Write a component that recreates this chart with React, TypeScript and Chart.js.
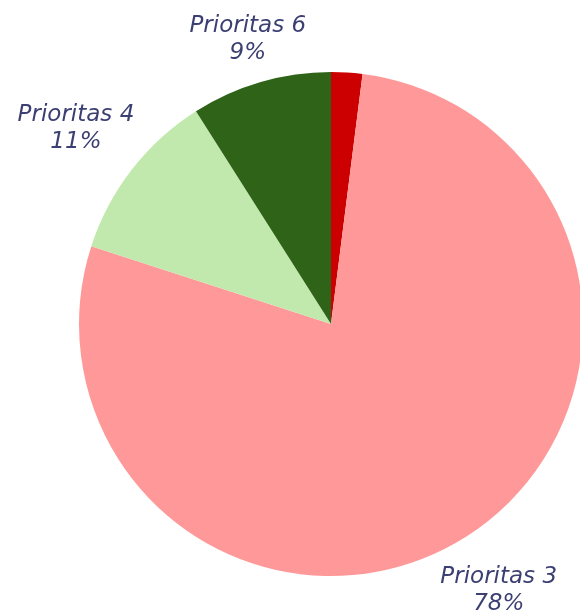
import React, { useEffect, useRef } from "react";
import { Chart, registerables } from "chart.js";

Chart.register(...registerables);

const categories = ["Prioritas 2", "Prioritas 3", "Prioritas 4", "Prioritas 6"];
const values = [2, 78, 11, 9];
const colors = ["#cc0000", "#ff9999", "#c1e9ad", "#2e6318"];
const showLabel = [false, true, true, true];

const FONT_SIZE = 23;
const FONT = `oblique ${FONT_SIZE}px 'DejaVu Sans', sans-serif`;
const TEXT_COLOR = "#3b3f72";
// label centre distance, relative to the pie radius
const labelRadius = [1.2, 1.242, 1.281, 1.184];

const labelPlugin = {
  id: "outerLabels",
  afterDatasetsDraw(chart: any) {
    const ctx = chart.ctx;
    const meta = chart.getDatasetMeta(0);
    const total = values.reduce((a, b) => a + b, 0);
    ctx.save();
    ctx.font = FONT;
    ctx.fillStyle = TEXT_COLOR;
    ctx.textAlign = "center";
    ctx.textBaseline = "alphabetic";
    const lineGap = 27;
    const capHalf = FONT_SIZE * 0.365;
    meta.data.forEach((arc: any, i: number) => {
      if (!showLabel[i]) return;
      const { x, y, startAngle, endAngle, outerRadius } = arc.getProps(
        ["x", "y", "startAngle", "endAngle", "outerRadius"],
        true
      );
      const mid = (startAngle + endAngle) / 2;
      const d = outerRadius * labelRadius[i];
      const cx = x + Math.cos(mid) * d;
      const cy = y + Math.sin(mid) * d;
      const l1 = categories[i];
      const l2 = Math.round((values[i] / total) * 100) + "%";
      ctx.fillText(l1, cx, cy - lineGap / 2 + capHalf);
      ctx.fillText(l2, cx, cy + lineGap / 2 + capHalf);
    });
    ctx.restore();
  },
};

export default function App() {
  const ref = useRef<HTMLCanvasElement>(null);
  useEffect(() => {
    document.body.style.margin = "0";
    document.body.style.overflow = "hidden";
    const chart = new Chart(ref.current!, {
      type: "pie",
      data: {
        labels: categories,
        datasets: [
          {
            data: values,
            backgroundColor: colors,
            borderWidth: 0,
          },
        ],
      },
      options: {
        animation: false,
        responsive: false,
        layout: { padding: { left: 79, right: 37, top: 72, bottom: 35 } },
        plugins: {
          legend: { display: false },
          tooltip: { enabled: false },
        },
      },
      plugins: [labelPlugin],
    });
    return () => chart.destroy();
  }, []);
  return (
    <div style={{ position: "fixed", left: 0, top: 0, width: 580, height: 611, overflow: "hidden", background: "#fff" }}>
      <canvas ref={ref} width={620} height={611} style={{ width: 620, height: 611, display: "block" }} />
    </div>
  );
}
